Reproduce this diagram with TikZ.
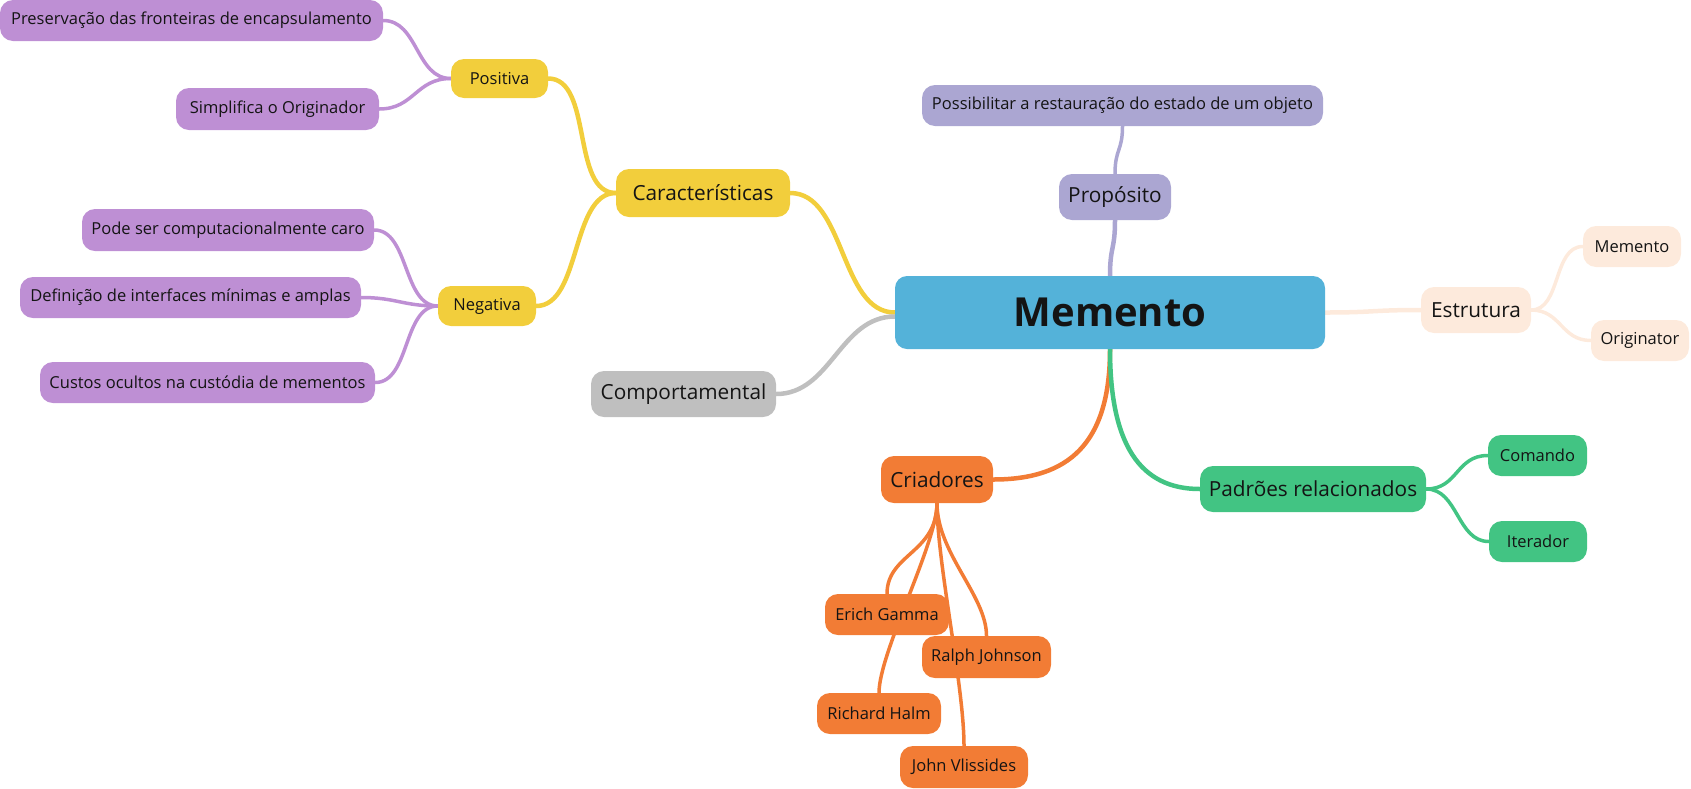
\documentclass[tikz,border=0pt]{standalone}
\usepackage{fontspec}
\setmainfont{Open Sans}
\usetikzlibrary{backgrounds}
\definecolor{cblue}{RGB}{84,178,217}
\definecolor{cyel}{RGB}{242,206,60}
\definecolor{cpur}{RGB}{190,143,212}
\definecolor{clav}{RGB}{171,166,210}
\definecolor{cgray}{RGB}{191,191,191}
\definecolor{cpeach}{RGB}{253,234,220}
\definecolor{cgreen}{RGB}{66,196,131}
\definecolor{corange}{RGB}{242,124,53}
\definecolor{ctext}{RGB}{20,20,20}
\begin{document}
\begin{tikzpicture}[x=1pt,y=-1pt,
  box/.style={rounded corners=13pt, inner sep=0pt, text=ctext, align=center},
  lvmain/.style={box, rounded corners=12pt, font=\fontsize{40}{44}\selectfont\bfseries, minimum height=73pt},
  lvone/.style={box, font=\fontsize{20.8}{24}\selectfont, minimum height=46pt},
  lvtwo/.style={box, font=\fontsize{16.5}{19}\selectfont, minimum height=41pt},
  eone/.style={line width=4.5pt, line cap=round},
  etwo/.style={line width=3.5pt, line cap=round}]
\useasboundingbox (0,0) rectangle (1691,788);

% main
\node[lvmain, fill=cblue, minimum width=430pt] (main) at (1110,312.5) {Memento};

% level 1
\node[lvone, fill=cyel, minimum width=174pt, minimum height=48pt] (car) at (703,193) {Características};
\node[lvone, fill=cgray, minimum width=185pt] (comp) at (683.5,394) {Comportamental};
\node[lvone, fill=clav, minimum width=112pt] (prop) at (1115,197) {Propósito};
\node[lvone, fill=cpeach, minimum width=110pt] (est) at (1476,310) {Estrutura};
\node[lvone, fill=cgreen, minimum width=226pt] (pad) at (1313,489) {Padrões relacionados};
\node[lvone, fill=corange, minimum width=112pt, minimum height=47pt] (cri) at (937,479.5) {Criadores};

% level 2
\node[lvtwo, fill=clav, minimum width=401pt] (poss) at (1122.5,105.5) {Possibilitar a restauração do estado de um objeto};
\node[lvtwo, fill=cpeach, minimum width=98pt] (mem) at (1632,246.5) {Memento};
\node[lvtwo, fill=cpeach, minimum width=98pt] (orig) at (1640,340.5) {Originator};
\node[lvtwo, fill=cgreen, minimum width=99pt] (com) at (1537.5,455.5) {Comando};
\node[lvtwo, fill=cgreen, minimum width=98pt] (ite) at (1538,541.5) {Iterador};
\node[lvtwo, fill=corange, minimum width=124pt] (eg) at (887,614.5) {Erich Gamma};
\node[lvtwo, fill=corange, minimum width=129pt, minimum height=42pt] (rj) at (986.5,657) {Ralph Johnson};
\node[lvtwo, fill=corange, minimum width=124pt] (rh) at (879,713.5) {Richard Halm};
\node[lvtwo, fill=corange, minimum width=128pt, minimum height=42pt] (jv) at (964,767) {John Vlissides};
\node[lvtwo, fill=cyel, minimum width=97pt, minimum height=39pt] (pos) at (499.5,78.5) {Positiva};
\node[lvtwo, fill=cyel, minimum width=98pt, minimum height=40pt] (neg) at (487,306) {Negativa};

% level 3
\node[lvtwo, fill=cpur, minimum width=383pt] (pre) at (191.5,20.5) {Preservação das fronteiras de encapsulamento};
\node[lvtwo, fill=cpur, minimum width=203pt, minimum height=42pt] (sim) at (277.5,109) {Simplifica o Originador};
\node[lvtwo, fill=cpur, minimum width=292pt, minimum height=42pt] (pode) at (228,230) {Pode ser computacionalmente caro};
\node[lvtwo, fill=cpur, minimum width=341pt] (def) at (190.5,297.5) {Definição de interfaces mínimas e amplas};
\node[lvtwo, fill=cpur, minimum width=335pt] (cus) at (207.5,382.5) {Custos ocultos na custódia de mementos};

\begin{scope}[on background layer]
% from main
\draw[eone, cyel] (main.west) .. controls +(-55,0) and +(55,0) .. (car.east);
\draw[eone, cgray] ([yshift=-4pt]main.west) .. controls +(-55,0) and +(55,0) .. (comp.east);
\draw[eone, clav] (main.north) .. controls +(0,-30) and +(0,30) .. (prop.south);
\draw[eone, cpeach] (main.east) .. controls +(50,0) and +(-50,0) .. (est.west);
\draw[eone, corange] (main.south) .. controls +(0,95) and +(75,0) .. (cri.east);
\draw[eone, cgreen] (main.south) .. controls +(0,95) and +(-60,0) .. (pad.west);
% propósito
\draw[etwo, clav] (prop.north) .. controls +(0,-25) and +(0,25) .. (poss.south);
% estrutura
\draw[etwo, cpeach] (est.east) .. controls +(30,0) and +(-30,0) .. (mem.west);
\draw[etwo, cpeach] (est.east) .. controls +(30,0) and +(-30,0) .. (orig.west);
% padrões
\draw[etwo, cgreen] (pad.east) .. controls +(32,0) and +(-32,0) .. (com.west);
\draw[etwo, cgreen] (pad.east) .. controls +(32,0) and +(-32,0) .. (ite.west);
% criadores
\draw[etwo, corange] (cri.south) .. controls +(0,50) and +(0,-40) .. (eg.north);
\draw[etwo, corange] (cri.south) .. controls +(0,40) and +(0,-40) .. (rh.north);
\draw[etwo, corange] (cri.south) .. controls +(0,60) and +(0,-60) .. (jv.north);
\draw[etwo, corange] (cri.south) .. controls +(0,50) and +(0,-40) .. (rj.north);
% características
\draw[eone, cyel] (car.west) .. controls +(-45,0) and +(45,0) .. (pos.east);
\draw[eone, cyel] (car.west) .. controls +(-45,0) and +(45,0) .. (neg.east);
% positiva / negativa
\draw[etwo, cpur] (pos.west) .. controls +(-35,0) and +(35,0) .. (pre.east);
\draw[etwo, cpur] (pos.west) .. controls +(-35,0) and +(35,0) .. (sim.east);
\draw[etwo, cpur] (neg.west) .. controls +(-35,0) and +(35,0) .. (pode.east);
\draw[etwo, cpur] (neg.west) .. controls +(-35,0) and +(35,0) .. (def.east);
\draw[etwo, cpur] (neg.west) .. controls +(-35,0) and +(35,0) .. (cus.east);
\end{scope}
\end{tikzpicture}
\end{document}
